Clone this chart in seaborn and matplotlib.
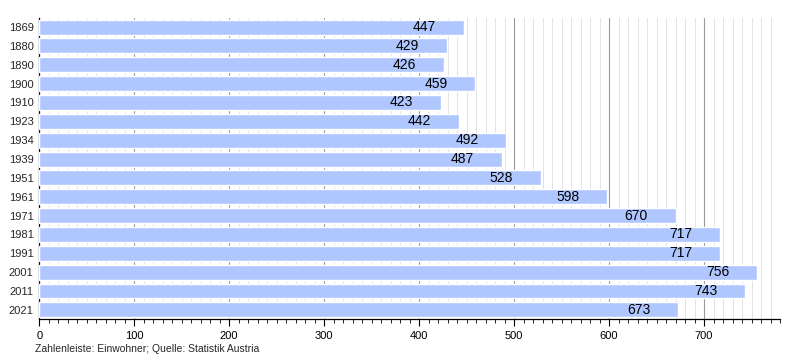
import matplotlib
matplotlib.use("Agg")
import matplotlib.pyplot as plt
import seaborn as sns
import pandas as pd
from matplotlib.ticker import MultipleLocator

years = ["1869", "1880", "1890", "1900", "1910", "1923", "1934", "1939",
         "1951", "1961", "1971", "1981", "1991", "2001", "2011", "2021"]
population = [447, 429, 426, 459, 423, 442, 492, 487,
              528, 598, 670, 717, 717, 756, 743, 673]

df = pd.DataFrame({"year": years, "pop": population})

sns.set_style("white")
plt.rcParams['font.family'] = ['Liberation Sans', 'DejaVu Sans']

fig = plt.figure(figsize=(8, 3.6), dpi=100)
ax = fig.add_axes([0.049, 0.113, 0.926, 0.838])

sns.barplot(data=df, y="year", x="pop", orient="h", color="#b0c6ff",
            saturation=1, width=0.79, ax=ax, zorder=3)

ax.set_xlim(0, 780)
ax.xaxis.set_major_locator(MultipleLocator(100))
ax.xaxis.set_minor_locator(MultipleLocator(10))
ax.grid(which="major", axis="x", color="#999999", lw=0.8, zorder=0)
ax.grid(which="minor", axis="x", color="#dddddd", lw=0.6, zorder=0)
ax.grid(which="major", axis="y", visible=False)
ax.set_axisbelow(True)

for spine in ["top", "right"]:
    ax.spines[spine].set_visible(False)
for spine in ["left", "bottom"]:
    ax.spines[spine].set_color("black")
    ax.spines[spine].set_linewidth(0.9)

ax.tick_params(axis="x", which="major", length=5, width=0.8, direction="out",
               labelsize=8, bottom=True, colors="black")
ax.tick_params(axis="x", which="minor", length=3, width=0.6, direction="out",
               bottom=True, colors="black")
ax.tick_params(axis="y", length=0, labelsize=8, pad=4)
ax.set_xlabel("")
ax.set_ylabel("")

for i, v in enumerate(population):
    ax.text(v - 29, i, str(v), ha="right", va="center", fontsize=10,
            color="black", zorder=4)

fig.text(35 / 800, 1 - 349 / 360, "Zahlenleiste: Einwohner; Quelle: Statistik Austria",
         fontsize=7.5, ha="left", va="center")

fig.savefig("out.png", dpi=100)
